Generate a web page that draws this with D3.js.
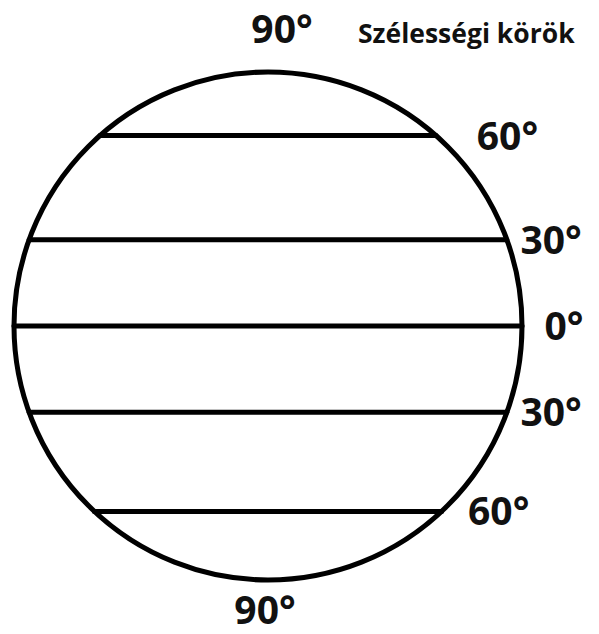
<!DOCTYPE html>
<html>
  <head>
    <meta charset="utf-8">
    <title>Szélességi körök</title>
    <style>
      body { margin: 0; background: #fff; }
      text { font-family: "Open Sans", sans-serif; font-weight: bold; fill: #111; }
    </style>
  </head>
  <body>
    <div id="chart"></div>
    <script src="https://cdn.jsdelivr.net/npm/d3@7"></script>
    <script>
      // parallels, drawn position as fraction of the radius (north positive)
      var parallelPos = [0.75, 0.34, 0, -0.34, -0.73];
      var parallelLabels = ['60°', '30°', '0°', '30°', '60°'];
      var poleLabels = ['90°', '90°'];
      var poleDir = [1, -1];
      var title = 'Szélességi körök';

      var width = 599, height = 634;
      var cx = 268, cy = 326, r = 254;
      var labelRadius = 296;   // distance of parallel labels from centre

      var svg = d3.select('#chart').append('svg')
        .attr('width', width)
        .attr('height', height);

      var y = d3.scaleLinear().domain([-1, 1]).range([cy + r, cy - r]);

      // globe outline
      svg.append('circle')
        .attr('cx', cx)
        .attr('cy', cy)
        .attr('r', r)
        .attr('fill', 'none')
        .attr('stroke', '#000')
        .attr('stroke-width', 5);

      // parallels
      svg.selectAll('line.par')
        .data(parallelPos)
        .enter().append('line')
        .attr('class', 'par')
        .attr('x1', function(d) { return cx - r * Math.sqrt(1 - d * d); })
        .attr('x2', function(d) { return cx + r * Math.sqrt(1 - d * d); })
        .attr('y1', function(d) { return y(d); })
        .attr('y2', function(d) { return y(d); })
        .attr('stroke', '#000')
        .attr('stroke-width', 5)
        .attr('stroke-linecap', 'round');

      // parallel labels, to the right of each line (top one sits a bit further out)
      svg.selectAll('text.plab')
        .data(parallelPos)
        .enter().append('text')
        .attr('class', 'plab')
        .attr('x', function(d) {
          var dy = y(d) - cy;
          var rr = labelRadius + (d > 0.5 ? 10 : 0);
          return cx + Math.sqrt(rr * rr - dy * dy);
        })
        .attr('y', function(d) { return y(d); })
        .attr('dy', '0.36em')
        .attr('text-anchor', 'middle')
        .style('font-size', '39px')
        .text(function(d, i) { return parallelLabels[i]; });

      // pole labels
      svg.selectAll('text.pole')
        .data(poleDir)
        .enter().append('text')
        .attr('class', 'pole')
        .attr('x', function(d) { return d > 0 ? cx + 14 : cx - 3; })
        .attr('y', function(d) { return d > 0 ? y(1) - 29 : y(-1) + 44; })
        .attr('text-anchor', 'middle')
        .style('font-size', '39px')
        .text(function(d, i) { return poleLabels[i]; });

      svg.append('text')
        .attr('x', 358)
        .attr('y', 43)
        .style('font-size', '26.5px')
        .text(title);
    </script>
  </body>
</html>
